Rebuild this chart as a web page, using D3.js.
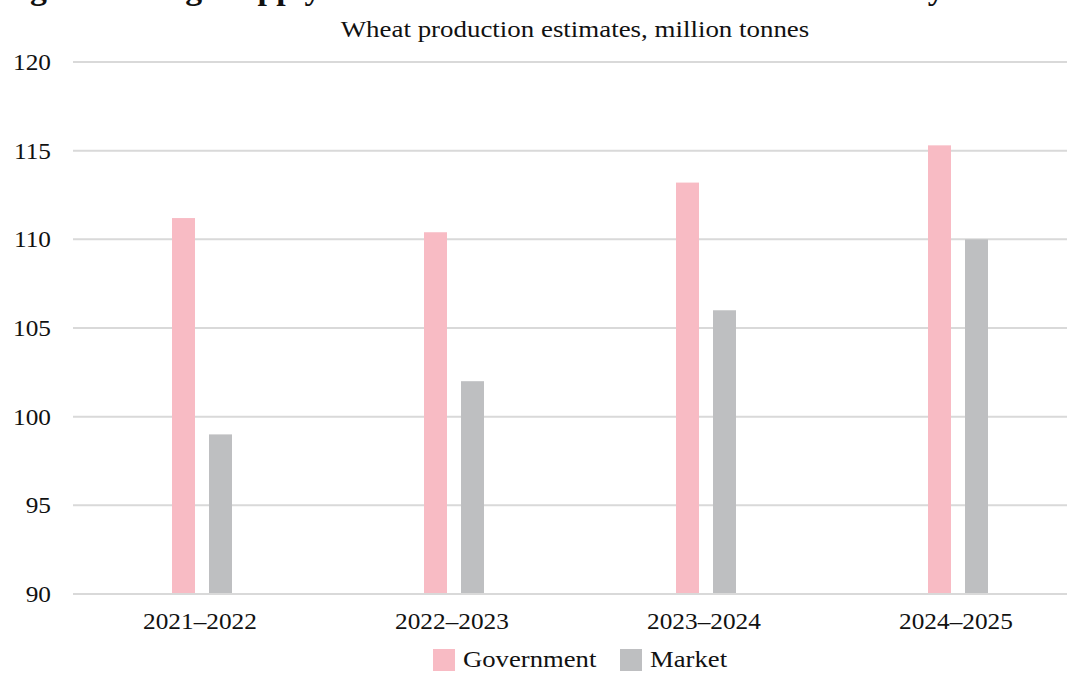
<!DOCTYPE html>
<html>
<head>
<meta charset="utf-8">
<script src="https://cdn.jsdelivr.net/npm/d3@7"></script>
<style>
  body { margin: 0; background: #fff; }
  svg { display: block; font-family: "Liberation Serif", "DejaVu Serif", serif; }
</style>
</head>
<body>
<svg id="chart" width="1067" height="673"></svg>
<script>
// data
let seasons = ["2021\u20132022", "2022\u20132023", "2023\u20132024", "2024\u20132025"];
let series = ["Government", "Market"];
let government = [111.2, 110.4, 113.2, 115.3];
let market = [99, 102, 106, 110];
let yTicks = [90, 95, 100, 105, 110, 115, 120];

let colorPallet = d3.scaleOrdinal()
  .domain(series)
  .range(["#f8bbc4", "#bebfc1"]);

let width = 1067, height = 673;
let svg = d3.select("#chart");

// the original face is wider than Liberation Serif, stretch glyphs a bit
function widen(k) {
  return function() {
    let w = this.getComputedTextLength();
    d3.select(this)
      .attr("textLength", w * k)
      .attr("lengthAdjust", "spacingAndGlyphs");
  };
}

let x0 = d3.scaleBand()
  .domain(seasons)
  .range([76, 1084]);

let x1 = d3.scaleBand()
  .domain(series)
  .range([-30, 30])
  .paddingInner(14 / 37);

let y = d3.scaleLinear()
  .domain([90, 120])
  .range([594, 62]);

// title (cut off at top of the picture)
svg.append("text")
   .attr("x", 0)
   .attr("y", -1)
   .style("font-size", "31px")
   .style("font-weight", "bold")
   .style("fill", "#111")
   .text("Figure 1: Huge supply shortfall in the wheat estimates of India by")
   .each(widen(1.09));

svg.append("text")
   .attr("x", 575)
   .attr("y", 37)
   .attr("text-anchor", "middle")
   .style("font-size", "23px")
   .style("fill", "#111")
   .text("Wheat production estimates, million tonnes")
   .each(widen(1.17));

// gridlines
svg.append("g")
   .selectAll("line")
   .data(yTicks)
   .enter()
   .append("line")
   .attr("x1", 73)
   .attr("x2", width)
   .attr("y1", d => y(d))
   .attr("y2", d => y(d))
   .attr("stroke", "#d9d9d9")
   .attr("stroke-width", 2);

// y axis labels
svg.append("g")
   .selectAll("text")
   .data(yTicks)
   .enter()
   .append("text")
   .attr("x", 51)
   .attr("y", d => y(d) + 8)
   .attr("text-anchor", "end")
   .style("font-size", "23px")
   .style("fill", "#111")
   .text(d => d)
   .each(widen(1.1));

// bars
let rows = seasons.map((s, i) => ({
  season: s,
  values: [
    { key: "Government", value: government[i] },
    { key: "Market", value: market[i] }
  ]
}));

let groups = svg.append("g")
   .selectAll("g")
   .data(rows)
   .enter()
   .append("g")
   .attr("transform", d => "translate(" + (x0(d.season) + x0.bandwidth() / 2) + ",0)");

groups.selectAll("rect")
   .data(d => d.values)
   .enter()
   .append("rect")
   .attr("x", d => x1(d.key))
   .attr("width", x1.bandwidth())
   .attr("y", d => y(d.value))
   .attr("height", d => y(90) - y(d.value) - 1)
   .style("fill", d => colorPallet(d.key));

// category labels
svg.append("g")
   .selectAll("text")
   .data(seasons)
   .enter()
   .append("text")
   .attr("x", d => x0(d) + x0.bandwidth() / 2 - 2)
   .attr("y", 629)
   .attr("text-anchor", "middle")
   .style("font-size", "23px")
   .style("fill", "#111")
   .text(d => d)
   .each(widen(1.1));

// legend
let legendX = [433, 620];
let legend = svg.append("g")
   .selectAll("g")
   .data(series)
   .enter()
   .append("g")
   .attr("transform", (d, i) => "translate(" + legendX[i] + ",649)");

legend.append("rect")
   .attr("width", 22)
   .attr("height", 22)
   .style("fill", d => colorPallet(d));

legend.append("text")
   .attr("x", 30)
   .attr("y", 18)
   .style("font-size", "23px")
   .style("fill", "#111")
   .text(d => d)
   .each(widen(1.16));
</script>
</body>
</html>
